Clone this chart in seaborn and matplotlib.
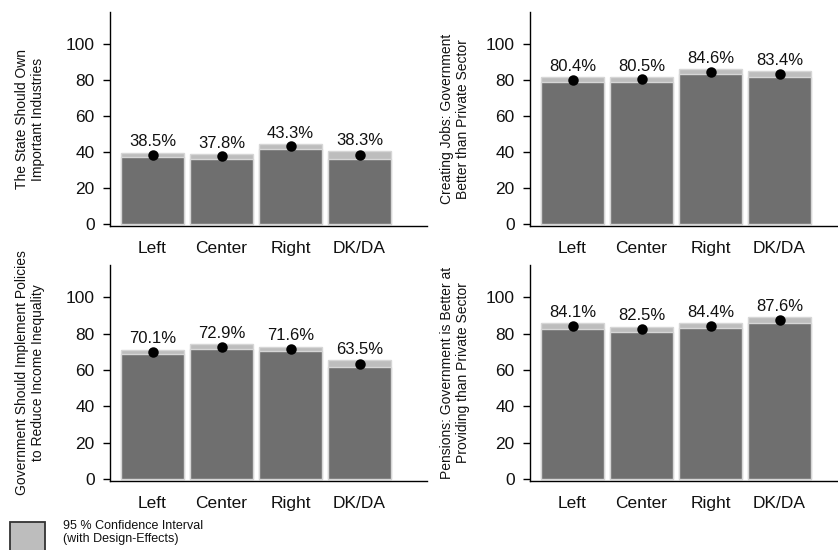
import matplotlib
matplotlib.use("Agg")
import matplotlib.pyplot as plt
from matplotlib.patches import Rectangle
import pandas as pd
import seaborn as sns

# ---- data -------------------------------------------------------------
categories = ["Left", "Center", "Right", "DK/DA"]

panel_titles = [
    "The State Should Own\nImportant Industries",
    "Creating Jobs: Government\nBetter than Private Sector",
    "Government Should Implement Policies\nto Reduce Income Inequality",
    "Pensions: Government is Better at\nProviding than Private Sector",
]

est_industries = [38.5, 37.8, 43.3, 38.3]
low_industries = [37.2, 36.5, 42.0, 36.2]
up_industries = [39.8, 39.1, 44.6, 40.6]

est_jobs = [80.4, 80.5, 84.6, 83.4]
low_jobs = [79.0, 79.1, 83.4, 82.0]
up_jobs = [81.9, 81.9, 86.0, 85.0]

est_inequality = [70.1, 72.9, 71.6, 63.5]
low_inequality = [68.7, 71.5, 70.3, 61.6]
up_inequality = [71.3, 74.1, 72.9, 65.5]

est_pensions = [84.1, 82.5, 84.4, 87.6]
low_pensions = [82.6, 81.0, 83.1, 86.1]
up_pensions = [85.7, 84.0, 85.7, 89.1]

yticks = [0, 20, 40, 60, 80, 100]

legend_text = "95 % Confidence Interval\n(with Design-Effects)"

# ---- style ------------------------------------------------------------
sns.set_theme(style="white")
plt.rcParams["font.family"] = ["Liberation Sans", "DejaVu Sans"]

DARK = "#6f6f6f"
LIGHT = "#bdbdbd"
EDGE = "#d6d6d6"
TEXT = "#111111"

W, H = 838, 550
fig = plt.figure(figsize=(W / 100, H / 100), dpi=100)

# axes boxes in pixels: left, right, top, bottom, label offset
boxes = [
    (110, 427, 12, 226, 65),
    (530, 838, 12, 226, 60),
    (110, 427, 265, 480.7, 65),
    (530, 838, 265, 480.7, 60),
]

panels = [
    (est_industries, low_industries, up_industries),
    (est_jobs, low_jobs, up_jobs),
    (est_inequality, low_inequality, up_inequality),
    (est_pensions, low_pensions, up_pensions),
]

STEP = 69.0  # pixel spacing between category centres
for (l, r, t, b, off), title, (est, low, up) in zip(boxes, panel_titles, panels):
    ax = fig.add_axes([l / W, 1 - b / H, (r - l) / W, (b - t) / H])
    df = pd.DataFrame({"group": categories, "est": est, "low": low, "up": up})

    # upper confidence bound underneath, lower bound on top
    sns.barplot(data=df, x="group", y="up", color=LIGHT, saturation=1,
                width=0.91, edgecolor=EDGE, linewidth=1, ax=ax)
    sns.barplot(data=df, x="group", y="low", color=DARK, saturation=1,
                width=0.91, edgecolor=EDGE, linewidth=1, ax=ax)
    sns.pointplot(data=df, x="group", y="est", color="black",
                  linestyle="none", errorbar=None, markersize=5.5, ax=ax)
    for ln in ax.lines:
        ln.set_zorder(5)

    for i, (u, e) in enumerate(zip(up, est)):
        ax.annotate(f"{e:.1f}%", (i, u), xytext=(0, 4.5),
                    textcoords="offset points", ha="center", va="baseline",
                    fontsize=12, color=TEXT)

    ax.set_xlim(-0.616, (r - l) / STEP - 0.616)
    ax.set_ylim(-0.95, 117.9)
    ax.set_yticks(yticks)
    ax.set_xlabel("")
    ax.set_ylabel(title, fontsize=10, color=TEXT, linespacing=1.2)
    ax.yaxis.set_label_coords(-off / (r - l), 0.5)

    for side in ("top", "right"):
        ax.spines[side].set_visible(False)
    for side in ("left", "bottom"):
        ax.spines[side].set_color("black")
        ax.spines[side].set_linewidth(1.0)

    ax.tick_params(axis="y", length=5, width=1, color="black", pad=6,
                   labelsize=12.5, labelcolor=TEXT, left=True)
    ax.tick_params(axis="x", length=0, pad=11, labelsize=12.5, labelcolor=TEXT)

# legend key for the confidence band
fig.patches.append(Rectangle((10 / W, -0.05), 35 / W, 0.05 + 1 - 522 / H,
                             transform=fig.transFigure, facecolor=LIGHT,
                             edgecolor="#333333", linewidth=1.3,
                             clip_on=False))
fig.text(63 / W, 1 - 520 / H, legend_text, fontsize=9, va="top", ha="left",
         color=TEXT, linespacing=1.1)

fig.savefig("out.png", dpi=100)
